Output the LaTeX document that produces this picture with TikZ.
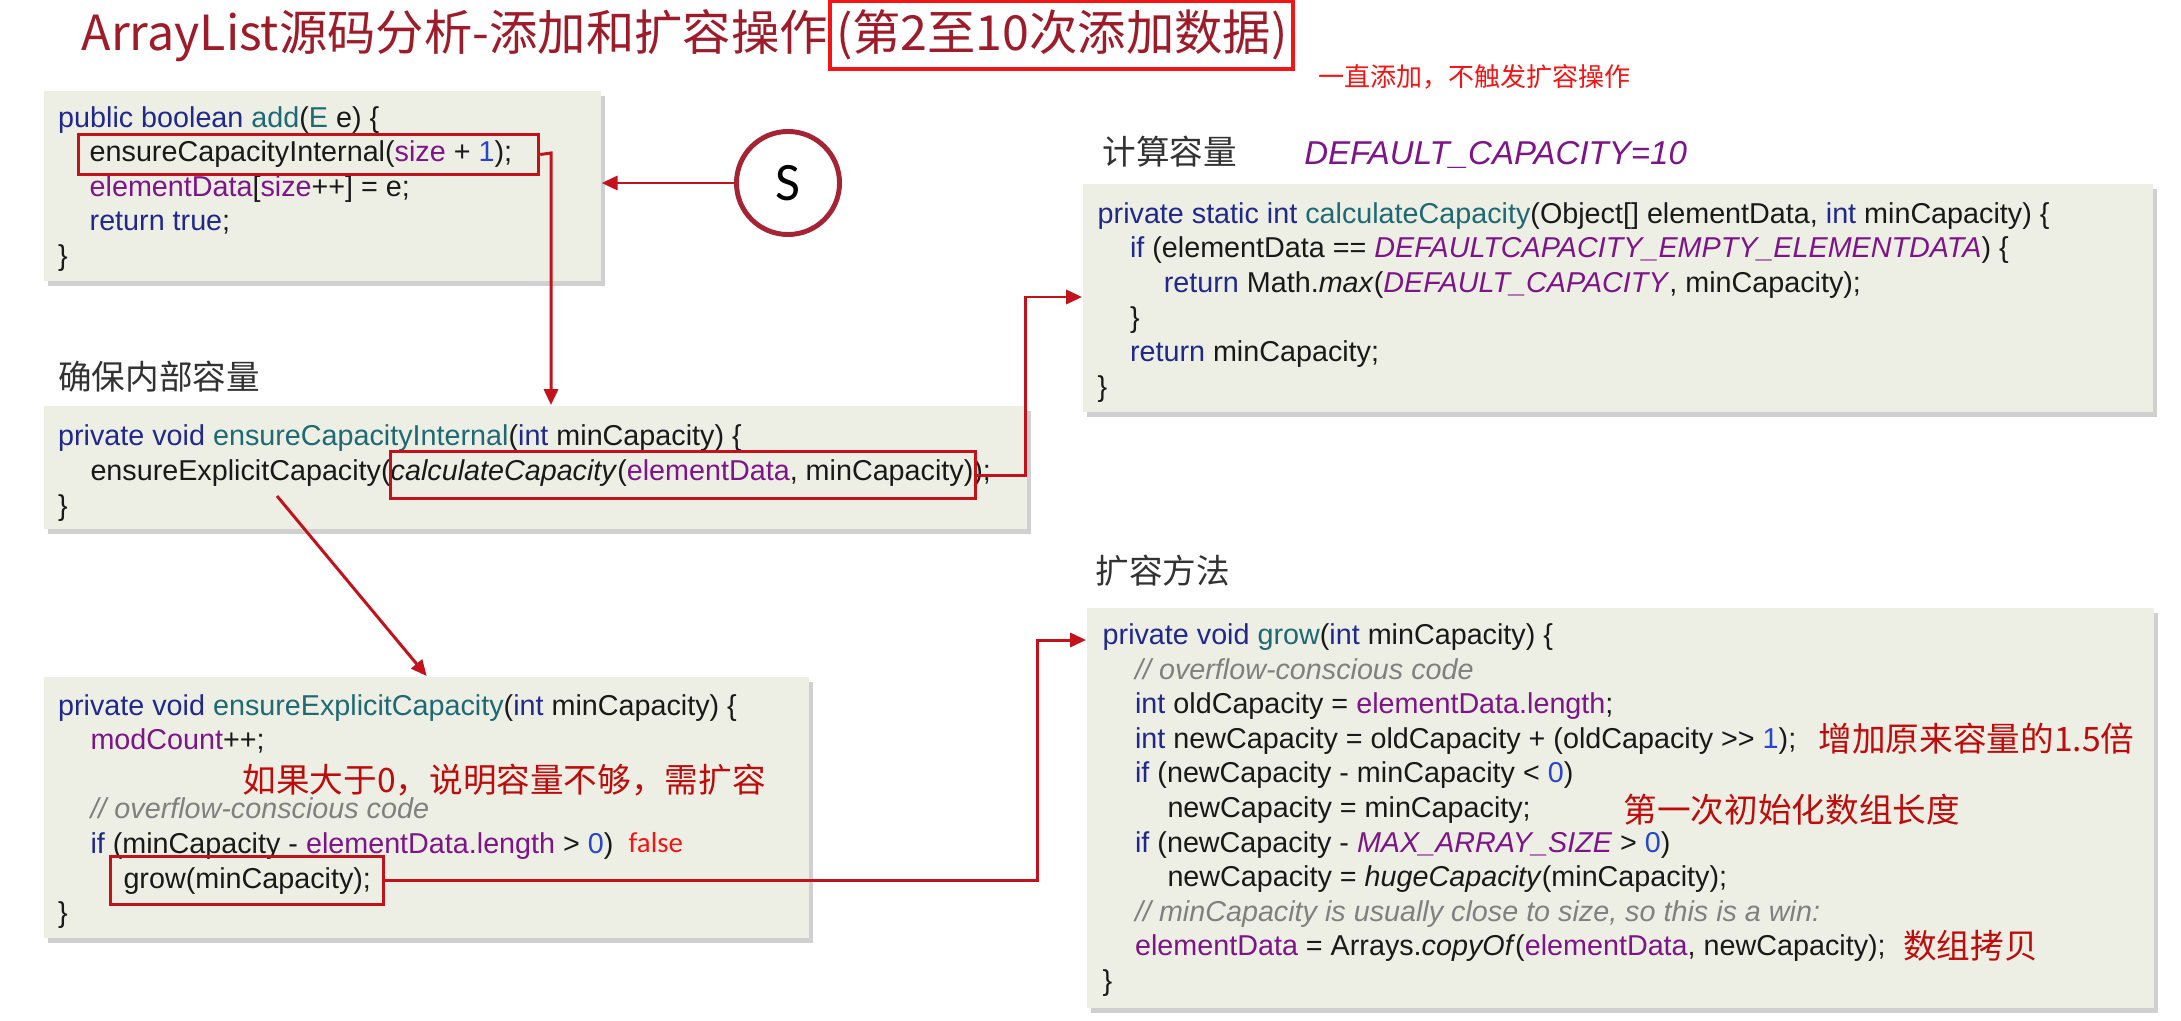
\documentclass[tikz,border=0pt]{standalone}
\usepackage{fontspec}
\setmainfont{Liberation Sans}
\newfontfamily\cjk{Noto Sans CJK SC}
\newfontfamily\calib{Carlito}
\usetikzlibrary{arrows.meta,shadows}

\definecolor{kwblue}{RGB}{32,40,140}
\definecolor{fnteal}{RGB}{30,105,115}
\definecolor{fldpurple}{RGB}{125,20,135}
\definecolor{nmbblue}{RGB}{40,70,200}
\definecolor{cmtgrey}{RGB}{128,128,128}
\definecolor{codeblack}{RGB}{25,25,25}
\definecolor{boxbg}{RGB}{237,239,228}
\definecolor{linkred}{RGB}{196,18,28}
\definecolor{circred}{RGB}{165,35,50}
\definecolor{notered}{RGB}{190,12,12}
\definecolor{brightred}{RGB}{245,20,20}
\definecolor{titlered}{RGB}{158,28,42}
\definecolor{headgrey}{RGB}{50,50,50}

\newcommand\kwd[1]{\textcolor{kwblue}{#1}}
\newcommand\fnm[1]{\textcolor{fnteal}{#1}}
\newcommand\fld[1]{\textcolor{fldpurple}{#1}}
\newcommand\nmb[1]{\textcolor{nmbblue}{#1}}
\newcommand\cmt[1]{\textcolor{cmtgrey}{\textit{#1}}}

\tikzset{
  codebox/.style={fill=boxbg, inner sep=0, anchor=north west,
    drop shadow={shadow xshift=0.04cm, shadow yshift=-0.05cm, opacity=0.3, fill=black!60}},
  code/.style={anchor=base west, inner sep=0, text=codeblack, font=\fontsize{8.17}{9.8}\selectfont},
  hilite/.style={draw=linkred, line width=0.85pt, inner sep=0, anchor=north west},
  link/.style={draw=linkred, line width=0.85pt, -{Triangle[length=4.5pt,width=4pt]}},
  heading/.style={anchor=base west, inner sep=0, text=headgrey, font=\cjk\fontsize{9.56}{11}\selectfont},
  note/.style={anchor=base west, inner sep=0, text=notered, font=\cjk\fontsize{9.56}{11}\selectfont},
}

\begin{document}
\begin{tikzpicture}[x=0.01cm, y=-0.01cm]
  \fill[white] (0,0) rectangle (2181,1021);
  \useasboundingbox (0,0) rectangle (2181,1021);

  %%%%% title %%%%%
  \node[anchor=base west, inner sep=0, text=titlered, font=\cjk\fontsize{13.75}{16}\selectfont] (title) at (81,51) {ArrayList源码分析-添加和扩容操作};
  \node[anchor=base west, text=titlered, font=\cjk\fontsize{13.75}{16}\selectfont, draw=brightred, line width=1.1pt, inner xsep=1.6pt, inner ysep=2.5pt] (round) at (title.base east) {(第2至10次添加数据)};
  \node[anchor=base west, inner sep=0, text=brightred, font=\cjk\fontsize{7.4}{9}\selectfont] (tip) at (1318,87) {一直添加，不触发扩容操作};

  %%%%% boxes %%%%%
  \node[codebox, minimum width=5.565cm, minimum height=1.9cm] (add) at (43.5,90) {};
  \node[codebox, minimum width=9.82cm, minimum height=1.23cm] (eci) at (43.5,405) {};
  \node[codebox, minimum width=10.70cm, minimum height=2.28cm] (calc) at (1082,183) {};
  \node[codebox, minimum width=7.645cm, minimum height=2.607cm] (ece) at (43.5,676) {};
  \node[codebox, minimum width=10.67cm, minimum height=4.0cm] (grow) at (1086,607) {};

  %%%%% add %%%%%
  \node[code] (add1) at (57.5,127) {\kwd{public boolean} \fnm{add}(\fnm{E} e) \{};
  \node[code] (add2) at (89,161.6) {ensureCapacityInternal(\fld{size} + \nmb{1});};
  \node[code] (add3) at (89,196.2) {\fld{elementData}[\fld{size}++] = e;};
  \node[code] (add4) at (89,230.8) {\kwd{return true};};
  \node[code] (add5) at (57.5,265.4) {\}};
  \node[hilite, minimum width=4.6cm, minimum height=0.4cm] (call1) at (77,133) {};

  \node[circle, draw=circred, line width=1.4pt, minimum size=1.03cm, inner sep=0, font=\calib\fontsize{15.4}{18}\selectfont] (start) at (788,183) {S};

  %%%%% ensureCapacityInternal %%%%%
  \node[heading] (h1) at (57.5,389.5) {确保内部容量};
  \node[code] (eci1) at (57.5,445) {\kwd{private void} \fnm{ensureCapacityInternal}(\kwd{int} minCapacity) \{};
  \node[code] (eci2) at (89.8,480) {ensureExplicitCapacity(\textit{calculateCapacity}(\fld{elementData}, minCapacity));};
  \node[code] (eci3) at (57.5,515) {\}};
  \node[hilite, minimum width=5.85cm, minimum height=0.47cm] (call2) at (389,450) {};

  %%%%% calculateCapacity %%%%%
  \node[heading] (h2) at (1102,164) {计算容量};
  \node[anchor=base west, inner sep=0, text=fldpurple, font=\fontsize{9.39}{11}\selectfont\itshape] (dc) at (1303.6,164.5) {DEFAULT\_CAPACITY=10};
  \node[code] (calc1) at (1097,223.2) {\kwd{private static int} \fnm{calculateCapacity}(Object[] elementData, \kwd{int} minCapacity) \{};
  \node[code] (calc2) at (1129.3,257.8) {\kwd{if} (elementData == \fld{\textit{DEFAULTCAPACITY\_EMPTY\_ELEMENTDATA}}) \{};
  \node[code] (calc3) at (1163.2,292.4) {\kwd{return} Math.\textit{max}(\fld{\textit{DEFAULT\_CAPACITY}}, minCapacity);};
  \node[code] (calc4) at (1129.3,327) {\}};
  \node[code] (calc5) at (1129.3,361.6) {\kwd{return} minCapacity;};
  \node[code] (calc6) at (1097,396.2) {\}};

  %%%%% ensureExplicitCapacity %%%%%
  \node[code] (ece1) at (57.5,715) {\kwd{private void} \fnm{ensureExplicitCapacity}(\kwd{int} minCapacity) \{};
  \node[code] (ece2) at (89.8,749.6) {\fld{modCount}++;};
  \node[note] (n1) at (242,792) {如果大于0，说明容量不够，需扩容};
  \node[code] (ece3) at (89.8,818.8) {\cmt{// overflow-conscious code}};
  \node[code] (ece4) at (89.8,853.4) {\kwd{if} (minCapacity - \fld{elementData.length} > \nmb{0})};
  \node[anchor=base west, inner sep=0, text=brightred, font=\calib\fontsize{8.2}{10}\selectfont] (fls) at (628,852.5) {false};
  \node[code] (ece5) at (122.8,888) {grow(minCapacity);};
  \node[code] (ece6) at (57.5,922.6) {\}};
  \node[hilite, minimum width=2.736cm, minimum height=0.483cm] (call3) at (108.7,855) {};

  %%%%% grow %%%%%
  \node[heading] (h3) at (1094.7,583.7) {扩容方法};
  \node[code] (gr1) at (1102,644.4) {\kwd{private void} \fnm{grow}(\kwd{int} minCapacity) \{};
  \node[code] (gr2) at (1134.4,679) {\cmt{// overflow-conscious code}};
  \node[code] (gr3) at (1134.4,713.6) {\kwd{int} oldCapacity = \fld{elementData.length};};
  \node[code] (gr4) at (1134.4,748.2) {\kwd{int} newCapacity = oldCapacity + (oldCapacity >{}> \nmb{1});};
  \node[code] (gr5) at (1134.4,782.8) {\kwd{if} (newCapacity - minCapacity < \nmb{0})};
  \node[code] (gr6) at (1166.8,817.4) {newCapacity = minCapacity;};
  \node[code] (gr7) at (1134.4,852) {\kwd{if} (newCapacity - \fld{\textit{MAX\_ARRAY\_SIZE}} > \nmb{0})};
  \node[code] (gr8) at (1166.8,886.6) {newCapacity = \textit{hugeCapacity}(minCapacity);};
  \node[code] (gr9) at (1134.4,921.2) {\cmt{// minCapacity is usually close to size, so this is a win:}};
  \node[code] (gr10) at (1134.4,955.8) {\fld{elementData} = Arrays.\textit{copyOf}(\fld{elementData}, newCapacity);};
  \node[code] (gr11) at (1102,990.4) {\}};
  \node[note] (n2) at (1818,751) {增加原来容量的1.5倍};
  \node[note] (n3) at (1623,822) {第一次初始化数组长度};
  \node[note] (n4) at (1902.6,958) {数组拷贝};

  %%%%% links %%%%%
  \draw[link] (start.west) -- (start.west -| add.east);
  \coordinate (bend1) at (551,153);
  \draw[link] (call1.east) -- (bend1) -- (bend1 |- eci.north);
  \coordinate (bend2) at (1025.6,297);
  \draw[link] (call2.east) -| (bend2) -- (bend2 -| calc.west);
  \coordinate (diag) at (277,496);
  \draw[link] (diag) -- (ece.north);
  \coordinate (bend3) at (1037,640);
  \draw[link] (call3.east) -| (bend3) -- (bend3 -| grow.west);
\end{tikzpicture}
\end{document}
